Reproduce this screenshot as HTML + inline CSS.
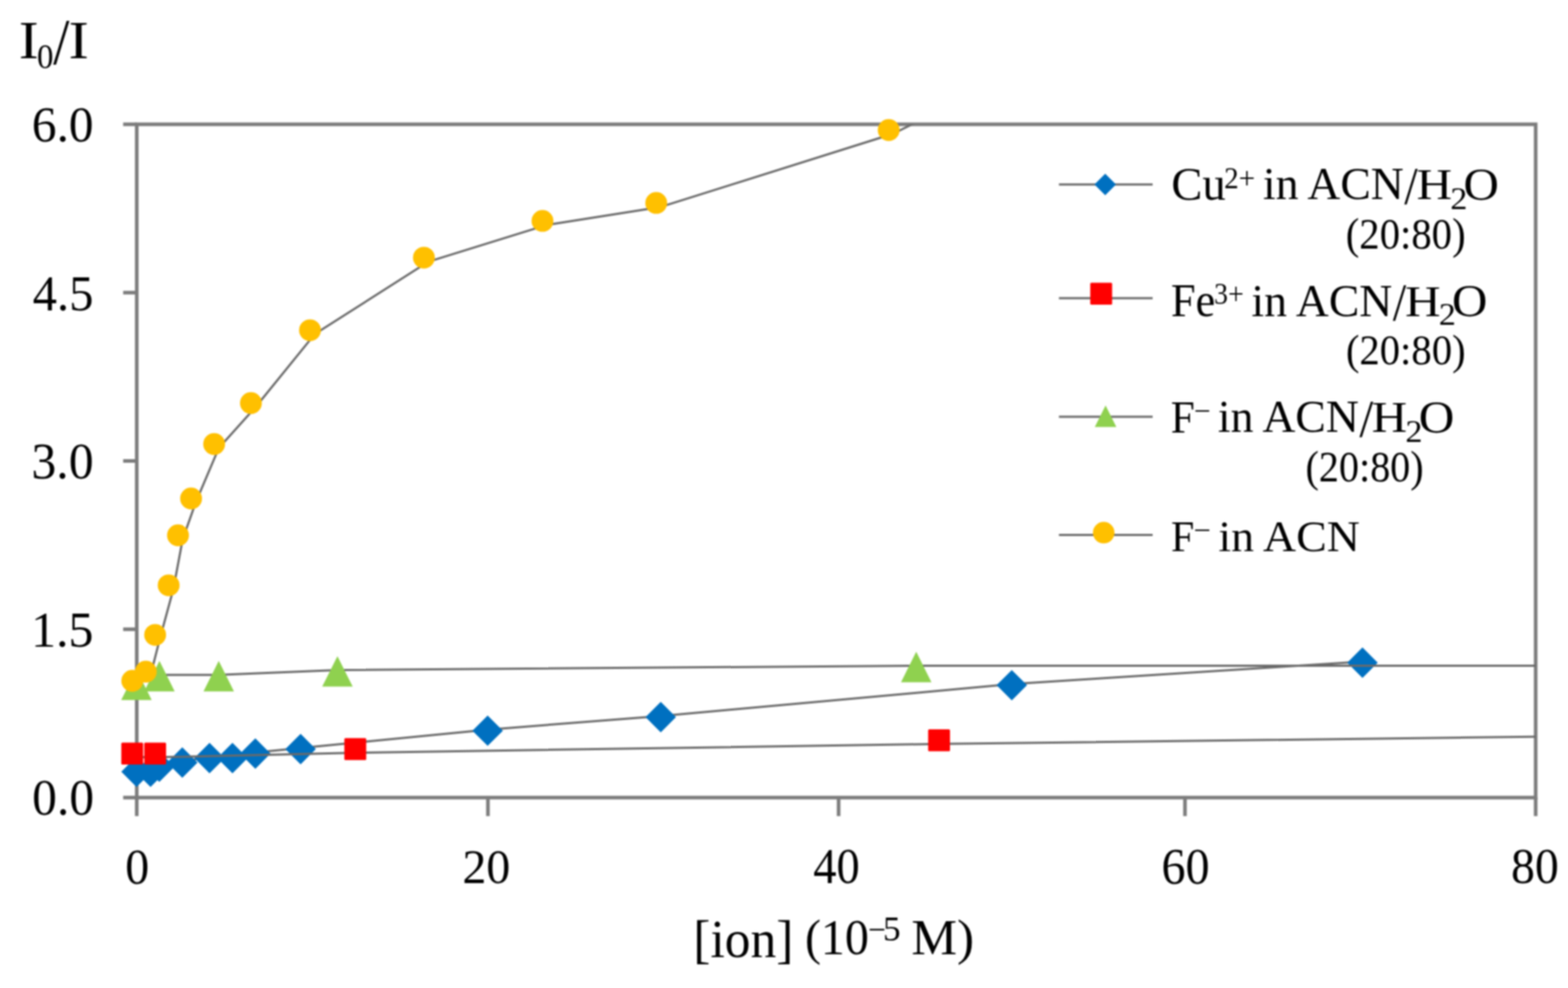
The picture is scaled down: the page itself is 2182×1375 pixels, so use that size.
<!DOCTYPE html>
<html><head><meta charset="utf-8"><title>I0/I vs [ion]</title>
<style>html,body{margin:0;padding:0;background:#fff;}svg{display:block;filter:blur(0.8px);}</style></head>
<body><svg width="2182" height="1375" viewBox="0 0 2182 1375">
<rect width="2182" height="1375" fill="#fff"/>
<g stroke="#7c7c7c" stroke-width="5" fill="none">
<rect x="190.3" y="173" width="1946.7" height="937"/>
<path d="M171.4 173H190.3M171.4 407.2H190.3M171.4 641.6H190.3M171.4 875.7H190.3M171.4 1110H190.3M190.3 1110V1135.7M679 1110V1135.7M1167 1110V1135.7M1649 1110V1135.7M2137 1110V1135.7"/>
</g>
<clipPath id="pc"><rect x="190.3" y="173" width="1946.7" height="937"/></clipPath>
<g clip-path="url(#pc)">
<polyline points="190,1072.5 209.5,1072.5 221.7,1065.5 253.7,1059.8 291.6,1053.5 323.5,1053.5 355.3,1047.2 418.3,1041 678.6,1015.4 919.5,996.5 1408,952.1 1896,920.7" fill="none" stroke="#6a6a6a" stroke-width="3" stroke-linejoin="round"/>
</g>
<polygon points="190,1052.8 211.2,1074 190,1095.2 168.8,1074" fill="#0070c0"/>
<polygon points="209.5,1052.8 230.7,1074 209.5,1095.2 188.3,1074" fill="#0070c0"/>
<polygon points="221.7,1045.8 242.9,1067 221.7,1088.2 200.5,1067" fill="#0070c0"/>
<polygon points="253.7,1040.1 274.9,1061.3 253.7,1082.5 232.5,1061.3" fill="#0070c0"/>
<polygon points="291.6,1033.8 312.8,1055 291.6,1076.2 270.4,1055" fill="#0070c0"/>
<polygon points="323.5,1033.8 344.7,1055 323.5,1076.2 302.3,1055" fill="#0070c0"/>
<polygon points="355.3,1027.5 376.5,1048.7 355.3,1069.9 334.1,1048.7" fill="#0070c0"/>
<polygon points="418.3,1021.3 439.5,1042.5 418.3,1063.7 397.1,1042.5" fill="#0070c0"/>
<polygon points="678.6,995.7 699.8,1016.9 678.6,1038.1 657.4,1016.9" fill="#0070c0"/>
<polygon points="919.5,976.8 940.7,998 919.5,1019.2 898.3,998" fill="#0070c0"/>
<polygon points="1408,932.4 1429.2,953.6 1408,974.8 1386.8,953.6" fill="#0070c0"/>
<polygon points="1896,901 1917.2,922.2 1896,943.4 1874.8,922.2" fill="#0070c0"/>
<g clip-path="url(#pc)">
<polyline points="190,1053.8 221.9,1053.8 500.4,1047.5 1312.8,1035.3 2137,1025.2" fill="none" stroke="#6a6a6a" stroke-width="3" stroke-linejoin="round"/>
</g>
<rect x="168.8" y="1033.6" width="30.4" height="30.4" rx="1.5" fill="#ff0000"/>
<rect x="200.7" y="1033.6" width="30.4" height="30.4" rx="1.5" fill="#ff0000"/>
<rect x="479.2" y="1027.3" width="30.4" height="30.4" rx="1.5" fill="#ff0000"/>
<rect x="1291.6" y="1015.1" width="30.4" height="30.4" rx="1.5" fill="#ff0000"/>
<g clip-path="url(#pc)">
<polyline points="189.9,951.25 221.9,939.25 304.4,939.25 469.6,932.55 1275,926.45 2137,926.6" fill="none" stroke="#6a6a6a" stroke-width="3" stroke-linejoin="round"/>
</g>
<polygon points="189.9,931.85 211.1,974.25 168.7,974.25" fill="#8fd14f"/>
<polygon points="221.9,919.85 243.1,962.25 200.7,962.25" fill="#8fd14f"/>
<polygon points="304.4,919.85 325.6,962.25 283.2,962.25" fill="#8fd14f"/>
<polygon points="469.6,913.15 490.8,955.55 448.4,955.55" fill="#8fd14f"/>
<polygon points="1275,907.05 1296.2,949.45 1253.8,949.45" fill="#8fd14f"/>
<g clip-path="url(#pc)">
<polyline points="190.6,953 209.4,940.2 222.4,889.1 241.2,820.1 254.2,750.5 272.4,699.2 304.5,623.5 355.7,566.5 437.9,465.1 596.4,364.1 761.4,312.9 919.7,287.9 1243.2,186 1303.2,156" fill="none" stroke="#6a6a6a" stroke-width="3" stroke-linejoin="round"/>
</g>
<circle cx="184.1" cy="947.5" r="15.2" fill="#ffc000"/>
<circle cx="202.9" cy="934.7" r="15.2" fill="#ffc000"/>
<circle cx="215.9" cy="883.6" r="15.2" fill="#ffc000"/>
<circle cx="234.7" cy="814.6" r="15.2" fill="#ffc000"/>
<circle cx="247.7" cy="745" r="15.2" fill="#ffc000"/>
<circle cx="265.9" cy="693.7" r="15.2" fill="#ffc000"/>
<circle cx="298" cy="618" r="15.2" fill="#ffc000"/>
<circle cx="349.2" cy="561" r="15.2" fill="#ffc000"/>
<circle cx="431.4" cy="459.6" r="15.2" fill="#ffc000"/>
<circle cx="589.9" cy="358.6" r="15.2" fill="#ffc000"/>
<circle cx="754.9" cy="307.4" r="15.2" fill="#ffc000"/>
<circle cx="913.2" cy="282.4" r="15.2" fill="#ffc000"/>
<circle cx="1236.7" cy="181" r="15.2" fill="#ffc000"/>
<polyline points="1473.6,256.7 1604,256.7" fill="none" stroke="#6a6a6a" stroke-width="3" stroke-linejoin="round"/>
<polygon points="1538,241.8 1553,256.8 1538,271.8 1523,256.8" fill="#0070c0"/>
<polyline points="1473.6,415.1 1604,415.1" fill="none" stroke="#6a6a6a" stroke-width="3" stroke-linejoin="round"/>
<rect x="1517.2" y="393.5" width="30.4" height="30.4" rx="1.5" fill="#ff0000"/>
<polyline points="1473.6,580 1604,580" fill="none" stroke="#6a6a6a" stroke-width="3" stroke-linejoin="round"/>
<polygon points="1538.5,564.25 1553.5,594.25 1523.5,594.25" fill="#8fd14f"/>
<polyline points="1473.6,744.6 1604,744.6" fill="none" stroke="#6a6a6a" stroke-width="3" stroke-linejoin="round"/>
<circle cx="1535.9" cy="741.3" r="15" fill="#ffc000"/>
<g font-family="'Liberation Serif', 'Times New Roman', serif" fill="#000">
<text id="yt1" x="26.22" y="81.48" font-size="74.47" textLength="27.51" lengthAdjust="spacingAndGlyphs">I</text>
<text id="yt2" x="51.45" y="95.15" font-size="47.71" textLength="22.86" lengthAdjust="spacingAndGlyphs">0</text>
<text id="yt3" x="74.04" y="88.84" font-size="90.9" textLength="22.61" lengthAdjust="spacingAndGlyphs">/</text>
<text id="yt4" x="95.4" y="81.48" font-size="74.47" textLength="28.07" lengthAdjust="spacingAndGlyphs">I</text>
<text id="y60" x="44.27" y="196.5" font-size="69.76" textLength="86" lengthAdjust="spacingAndGlyphs">6.0</text>
<text id="y45" x="45.57" y="431.5" font-size="68.88" textLength="84.46" lengthAdjust="spacingAndGlyphs">4.5</text>
<text id="y30" x="43.8" y="666" font-size="71.34" textLength="86.41" lengthAdjust="spacingAndGlyphs">3.0</text>
<text id="y15" x="43.2" y="900" font-size="69.48" textLength="86.94" lengthAdjust="spacingAndGlyphs">1.5</text>
<text id="y00" x="44.85" y="1134" font-size="71.34" textLength="85.97" lengthAdjust="spacingAndGlyphs">0.0</text>
<text id="x0" x="174.23" y="1229.51" font-size="68.84" textLength="33.43" lengthAdjust="spacingAndGlyphs">0</text>
<text id="x20" x="643.44" y="1229" font-size="68.27" textLength="66.68" lengthAdjust="spacingAndGlyphs">20</text>
<text id="x40" x="1131.64" y="1228.99" font-size="68.84" textLength="64.74" lengthAdjust="spacingAndGlyphs">40</text>
<text id="x60" x="1616.2" y="1229.98" font-size="71.58" textLength="67.04" lengthAdjust="spacingAndGlyphs">60</text>
<text id="x80" x="2102.86" y="1229.49" font-size="69.44" textLength="66.41" lengthAdjust="spacingAndGlyphs">80</text>
<text id="xa1" x="964.87" y="1331.53" font-size="73.62" textLength="139.24" lengthAdjust="spacingAndGlyphs">[ion]</text>
<text id="xa2" x="1120.14" y="1328.06" font-size="69.3" textLength="88.91" lengthAdjust="spacingAndGlyphs">(10</text>
<text id="xa3" x="1208.24" y="1308.93" font-size="46" textLength="24.76" lengthAdjust="spacingAndGlyphs">−</text>
<text id="xa4" x="1228.86" y="1308.57" font-size="47.91" textLength="24.49" lengthAdjust="spacingAndGlyphs">5</text>
<text id="xa5" x="1268.15" y="1328.29" font-size="70.14" textLength="87.36" lengthAdjust="spacingAndGlyphs">M)</text>
<text id="l1a" x="1629.95" y="278.01" font-size="64.88" textLength="75.71" lengthAdjust="spacingAndGlyphs">Cu</text>
<text id="l1b" x="1703.45" y="261.52" font-size="42.75" textLength="43.15" lengthAdjust="spacingAndGlyphs">2+</text>
<text id="l1c" x="1757.55" y="277.48" font-size="63.29" textLength="195.98" lengthAdjust="spacingAndGlyphs">in ACN</text>
<text id="l1d" x="1954.27" y="284.29" font-size="74.14" textLength="18.55" lengthAdjust="spacingAndGlyphs">/</text>
<text id="l1e" x="1971.26" y="277.48" font-size="62.06" textLength="49.47" lengthAdjust="spacingAndGlyphs">H</text>
<text id="l1f" x="2018.23" y="290.52" font-size="43.34" textLength="23.75" lengthAdjust="spacingAndGlyphs">2</text>
<text id="l1g" x="2036.64" y="278.03" font-size="64.2" textLength="49.36" lengthAdjust="spacingAndGlyphs">O</text>
<text id="l1h" x="1872.68" y="346.07" font-size="60.9" textLength="166.91" lengthAdjust="spacingAndGlyphs">(20:80)</text>
<text id="l2a" x="1629.51" y="439.99" font-size="64.88" textLength="61.66" lengthAdjust="spacingAndGlyphs">Fe</text>
<text id="l2b" x="1689.55" y="422.61" font-size="42.06" textLength="41.19" lengthAdjust="spacingAndGlyphs">3+</text>
<text id="l2c" x="1741.55" y="440" font-size="63.29" textLength="195.98" lengthAdjust="spacingAndGlyphs">in ACN</text>
<text id="l2d" x="1938.27" y="445.82" font-size="74.14" textLength="18.55" lengthAdjust="spacingAndGlyphs">/</text>
<text id="l2e" x="1955.26" y="440.02" font-size="62.06" textLength="49.47" lengthAdjust="spacingAndGlyphs">H</text>
<text id="l2f" x="2002.23" y="452" font-size="43.34" textLength="23.75" lengthAdjust="spacingAndGlyphs">2</text>
<text id="l2g" x="2020.64" y="440.46" font-size="64.2" textLength="49.36" lengthAdjust="spacingAndGlyphs">O</text>
<text id="l2h" x="1872.95" y="507.18" font-size="59.48" textLength="166.6" lengthAdjust="spacingAndGlyphs">(20:80)</text>
<text id="l3a" x="1629.26" y="602" font-size="62.68" textLength="33.36" lengthAdjust="spacingAndGlyphs">F</text>
<text id="l3b" x="1661.52" y="584.96" font-size="40" textLength="23.22" lengthAdjust="spacingAndGlyphs">−</text>
<text id="l3c" x="1694.78" y="601.48" font-size="63.29" textLength="196.27" lengthAdjust="spacingAndGlyphs">in ACN</text>
<text id="l3d" x="1891.68" y="608.29" font-size="74.14" textLength="19.21" lengthAdjust="spacingAndGlyphs">/</text>
<text id="l3e" x="1908.82" y="601.48" font-size="62.06" textLength="49.45" lengthAdjust="spacingAndGlyphs">H</text>
<text id="l3f" x="1955.75" y="614.52" font-size="43.37" textLength="23.76" lengthAdjust="spacingAndGlyphs">2</text>
<text id="l3g" x="1974.29" y="602.03" font-size="64.2" textLength="49.64" lengthAdjust="spacingAndGlyphs">O</text>
<text id="l3h" x="1816.67" y="669.62" font-size="61.18" textLength="164.48" lengthAdjust="spacingAndGlyphs">(20:80)</text>
<text id="l4a" x="1629.43" y="766.5" font-size="60.77" textLength="32.43" lengthAdjust="spacingAndGlyphs">F</text>
<text id="l4b" x="1660.96" y="751.26" font-size="40" textLength="24" lengthAdjust="spacingAndGlyphs">−</text>
<text id="l4c" x="1695.55" y="766.5" font-size="62.06" textLength="196.79" lengthAdjust="spacingAndGlyphs">in ACN</text>
</g>
</svg></body></html>
